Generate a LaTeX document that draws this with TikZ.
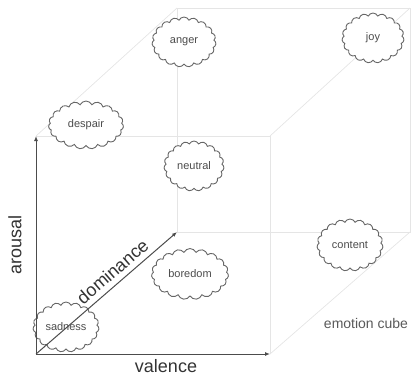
\documentclass[tikz,border=0pt]{standalone}
\usepackage{fontspec}
\setmainfont{Liberation Sans}
\usetikzlibrary{shapes.symbols,arrows.meta}
\begin{document}
\begin{tikzpicture}[x=1pt,y=-1pt,
axis/.style={-{Latex[length=5pt,width=4pt]},line width=1pt,draw=black!70},
edge/.style={draw=black!10,line width=0.7pt},
emotion/.style={cloud,cloud puffs=19,cloud puff arc=130,cloud ignores aspect,draw=black!60,fill=white,line width=0.9pt,text=black!70,font=\fontsize{11}{13}\selectfont,inner sep=0pt},
axislabel/.style={text=black!80,font=\fontsize{18}{20}\selectfont},
]
\useasboundingbox (0,0) rectangle (417,376);
%corners
\coordinate (o) at (36,354);
\coordinate (ftl) at (36,136);
\coordinate (ftr) at (270,136);
\coordinate (fbr) at (270,354);
\coordinate (btl) at (177,8);
\coordinate (btr) at (410,8);
\coordinate (bbl) at (177,232);
\coordinate (bbr) at (410,232);
%cube edges
\draw[edge](ftl)--(ftr)--(fbr);
\draw[edge](btl)--(btr)--(bbr)--(bbl)--cycle;
\draw[edge](ftl)--(btl);
\draw[edge](ftr)--(btr);
\draw[edge](fbr)--(bbr);
%emotions
\node[emotion,minimum width=64,minimum height=50](anger)at(184,42){anger};
\node[emotion,minimum width=62,minimum height=50](joy)at(373,38){joy};
\node[emotion,minimum width=75,minimum height=48](despair)at(86,125){despair};
\node[emotion,minimum width=60,minimum height=50](neutral)at(194,166){neutral};
\node[emotion,minimum width=77,minimum height=51](boredom)at(190,274){boredom};
\node[emotion,minimum width=66,minimum height=52](content)at(350,245){content};
\node[emotion,minimum width=66,minimum height=50](sadness)at(66,327){sadness};
%axes
\draw[axis](o)--(ftl);
\draw[axis](o)--(fbr);
\draw[axis](o)--(bbl) node[axislabel,pos=0.6,sloped,above=2pt](dominance){dominance};
%labels
\node[axislabel,rotate=90](arousal)at(15,245){arousal};
\node[axislabel](valence)at(166,366){valence};
\node[text=black!65,font=\fontsize{14}{16}\selectfont](cube)at(366,323){emotion cube};
\end{tikzpicture}
\end{document}
